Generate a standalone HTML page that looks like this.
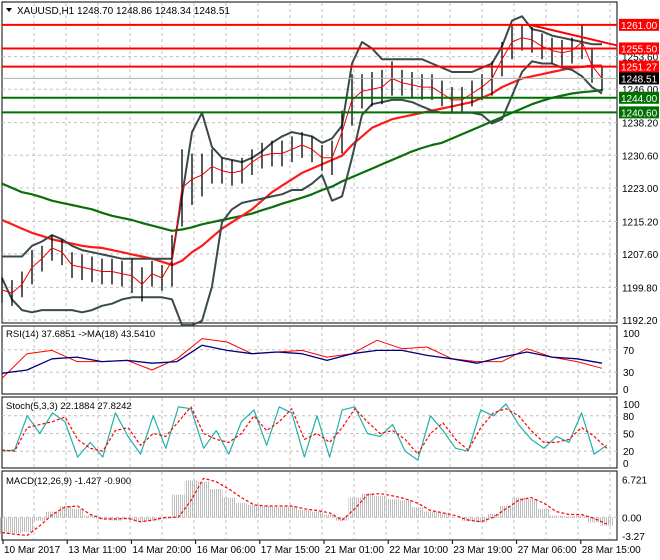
<!DOCTYPE html>
<html><head><meta charset="utf-8"><style>
body{margin:0;background:#fff;width:660px;height:560px;overflow:hidden}
svg{display:block;font-family:"Liberation Sans",sans-serif}
</style></head><body>
<svg id="c" width="660" height="560" viewBox="0 0 660 560" xmlns="http://www.w3.org/2000/svg">
<defs><pattern id="hp" width="2" height="4" patternUnits="userSpaceOnUse"><rect x="0" y="0" width="1" height="4" fill="#bdbdbd"/></pattern></defs>
<rect x="0" y="0" width="660" height="560" fill="#fff"/>
</svg>
<script>
// ---- data ----
const closes=[1199.2,1198.5,1200.5,1204.5,1206.5,1209,1208,1205,1204.5,1204,1203.5,1203.5,1203,1202.5,1200.5,1203,1202,1206,1223,1225,1226,1228,1227,1226.5,1227,1229,1230.5,1231,1231,1232,1233,1232,1230,1230,1236,1243.5,1245.5,1246,1246.5,1248.5,1247.5,1247,1246.5,1246.5,1245,1243.5,1243.5,1245,1246.5,1248.5,1253,1257,1258,1257.5,1256,1255,1254.5,1255,1257,1251.5,1248.5];
const ranges=[3,3,3,4,3,3,3,3,3,3,3,3,3,4,4,3,3,6,9,6,5,4,3,3,3,3,3,3,3,3,3,3,3,4,5,6,4,4,4,4,3,3,3,3,3,3,3,3,3,4,4,4,3,3,3,3,3,3,4,4,3];
const bbUpper=[1207,1207,1207,1209.5,1210.5,1212,1211,1209.5,1208.5,1208,1207.5,1207,1206.5,1206.5,1206.5,1206.5,1206.5,1206.5,1221,1236,1240.5,1232.5,1230,1229.5,1229,1230,1231.5,1233.5,1235,1236,1235.5,1235,1233.5,1234.5,1237.5,1252,1257,1255.5,1253,1253,1253,1253,1253,1252,1251,1250,1250,1250,1251,1252,1256,1262,1263,1260,1259.5,1258.5,1258,1257.5,1257,1256.5,1256.5];
const bbLower=[1202,1197,1194.5,1194,1194.5,1194.5,1194.5,1194.5,1194,1194.5,1195.5,1196,1197,1197.5,1197.5,1197.5,1197.5,1197,1191,1191,1192,1200,1215,1218,1219.5,1220,1220.5,1221,1221.5,1222.5,1222.5,1224,1226,1220,1221,1230,1240,1242.5,1243,1243.5,1243.5,1243,1242,1241,1240.5,1240.5,1240.5,1240.5,1240,1238,1239,1244.5,1250,1252.5,1252,1252,1251,1250.5,1249,1246.5,1245];
const maSlow=[1215.5,1214.5,1213.5,1212.5,1211.8,1211,1210.5,1210,1209.5,1209.2,1209,1208.5,1208,1207.5,1207,1206.5,1205.8,1205,1206,1208,1209.5,1211.5,1213.5,1215,1216.5,1218,1220,1222,1223.5,1225,1226.5,1227.5,1228.5,1229.5,1230.5,1233,1235,1237,1238,1239,1239.5,1240,1240.5,1241,1241.5,1242,1242.5,1243,1244,1245,1246.5,1247.5,1248.5,1249,1249.5,1250,1250.5,1251,1251.2,1251.5,1251.5];
const maLong=[1224,1223,1222,1221.5,1220.8,1220,1219.5,1219,1218.5,1218,1217.2,1216.5,1216,1215.5,1214.8,1214.2,1213.6,1213,1213.3,1213.8,1214.5,1215,1215.5,1216,1216.5,1217,1217.8,1218.5,1219.3,1220,1220.7,1221.5,1222.5,1223.3,1224.5,1225.5,1226.5,1227.5,1228.5,1229.5,1230.5,1231.5,1232.3,1233,1233.5,1234.5,1235.5,1236.5,1237.5,1238.5,1239.5,1240.5,1241.5,1242.5,1243.3,1244,1244.5,1245,1245.3,1245.5,1245.8];
const priceTicks=["1253.60","1246.00","1238.20","1230.60","1223.00","1215.20","1207.60","1199.80","1192.20"];
const levelsRed=[1261.00,1255.50,1251.27];
const levelsGreen=[1244.00,1240.60];
const lastPrice=1248.51;
const rsi=[19,63,69,49,49,51,34,54,90,84,63,66,69,57,63,87,72,75,54,49,49,72,57,49,37];
const rsiMa=[28,34,54,57,49,51,46,49,78,69,63,66,63,51,63,69,69,60,54,46,57,66,57,54,46];
const stochK=[20,22,80,50,85,70,10,35,10,85,45,15,80,25,95,92,25,55,15,70,90,30,95,85,10,80,10,90,95,50,45,65,20,5,80,55,25,20,90,80,100,65,40,25,45,35,85,15,30];
const stochD=[22,20,60,65,70,78,40,25,20,55,60,30,50,45,70,95,50,40,35,50,80,55,70,92,40,50,35,60,92,70,50,55,40,15,50,68,40,22,60,85,92,80,55,35,35,40,60,45,25];
const macdHist=[-2.8,-2.8,-2.5,-0.5,1.0,2.0,1.5,0.3,-0.3,-0.5,-0.3,-0.7,-0.5,-0.2,4,6.5,6.3,5,3.5,2.5,2.2,2,1.8,1.9,1.3,1.0,0.5,-0.5,3.5,4.2,3.8,3.2,3.0,1.8,1.0,0.8,0,-0.6,-0.8,0.6,2.0,3.5,3.2,1.5,0.3,0.2,0.3,-0.8,-1.4];
const macdSig=[-2.7,-3,-3.2,-1.5,0.5,1.8,2,0.5,-0.3,-0.3,-0.2,-0.8,-0.5,0,0,3,6.9,6.3,5,3.5,2.2,2,2,2,1.5,1.2,0.8,-0.5,1.5,4,4.2,3.8,3.3,2.5,1.2,0.8,0.3,-0.5,-0.8,0,1.5,3,3.5,2.5,1,0.5,0.5,-0.2,-1.2];
const timeLabels=["10 Mar 2017","13 Mar 11:00","14 Mar 20:00","16 Mar 06:00","17 Mar 15:00","21 Mar 01:00","22 Mar 10:00","23 Mar 19:00","27 Mar 06:00","28 Mar 15:00"];

// ---- geometry ----
const svg=document.getElementById('c');
const NS='http://www.w3.org/2000/svg';
const L=2,R=617;
function mk(tag,attrs,parent){const e=document.createElementNS(NS,tag);for(const k in attrs)e.setAttribute(k,attrs[k]);(parent||svg).appendChild(e);return e;}
const yP=p=>320-(p-1192.2)*4.29;
const xMain=i=>2+i*10;
const xRsi=i=>2+i*25;
const xLow=i=>2+i*12.6;
const yRsi=v=>389-v*0.56;
const ySt=v=>463-v*0.59;
const yMacd=v=>517.3-v*5.65;
function poly(arr,xf,yf,stroke,w,dash,name){
  const pts=arr.map((v,i)=>xf(i).toFixed(1)+','+yf(v).toFixed(1)).join(' ');
  const e=mk('polyline',{points:pts,fill:'none',stroke:stroke,'stroke-width':w,'stroke-linejoin':'round'});
  if(dash)e.setAttribute('stroke-dasharray',dash);
  
  
  return e;
}
function txt(s,x,y,opt){const t=mk('text',Object.assign({x:x,y:y,'font-size':10,fill:'#000'},opt||{}));t.textContent=s;return t;}

const panels=[[2,323,'main-panel'],[326,394,'rsi-panel'],[397,468,'stoch-panel'],[471,540,'macd-panel']];
panels.forEach(p=>{
  const r=mk('rect',{x:L,y:p[0],width:R-L,height:p[1]-p[0],fill:'none',stroke:'#000','stroke-width':1});
  
  
});
for(let x=34;x<R;x+=32){
  panels.forEach(p=>{
    const g=mk('line',{x1:x,x2:x,y1:p[0]+1,y2:p[1]-1,stroke:'#c0c0c0','stroke-dasharray':'3,3'});
    
    
  });
}
priceTicks.forEach(t=>{
  const y=yP(parseFloat(t));
  const g=mk('line',{x1:L,x2:R,y1:y,y2:y,stroke:'#c0c0c0','stroke-dasharray':'3,3'});
  
  
  const tt=txt(t,622,y+4);
  
  
});
[[yRsi,[70,30]],[ySt,[80,50,20]],[yMacd,[0]]].forEach(g=>{
  g[1].forEach(v=>{
    const e=mk('line',{x1:L,x2:R,y1:g[0](v),y2:g[0](v),stroke:'#c0c0c0','stroke-dasharray':'3,3'});
    
    
  });
});
poly(maLong,xMain,yP,'#0a6e0a',2.2,null,'ma-long-green');
poly(maSlow,xMain,yP,'#ff1a1a',2.2,null,'ma-slow-red');
poly(bbUpper,xMain,yP,'#3a4a4a',2,null,'bollinger-upper');
poly(bbLower,xMain,yP,'#3a4a4a',2,null,'bollinger-lower');
closes.forEach((c,i)=>{
  const x=xMain(i);
  const b=mk('line',{x1:x,x2:x,y1:yP(c+ranges[i]),y2:yP(c-ranges[i]),stroke:'#000','stroke-width':1.3});
  
  
});
poly(closes,xMain,yP,'#e00',1,null,'fast-ma-red');
levelsRed.forEach(v=>{
  const e=mk('line',{x1:L,x2:R,y1:yP(v),y2:yP(v),stroke:'#ff0000','stroke-width':2});
  
  
});
levelsGreen.forEach(v=>{
  const e=mk('line',{x1:L,x2:R,y1:yP(v),y2:yP(v),stroke:'#007000','stroke-width':2});
  
  
});
const tl=mk('line',{x1:530,y1:yP(1261),x2:R,y2:yP(1256.2),stroke:'#ff0000','stroke-width':2});


const lp=mk('line',{x1:L,x2:R,y1:yP(lastPrice),y2:yP(lastPrice),stroke:'#b0b0b0','stroke-width':1});


function badge(v,bg,name){
  const y=yP(v);
  const r=mk('rect',{x:619,y:y-6,width:40,height:12,fill:bg});
  
  
  const t=txt(v.toFixed(2),621,y+4,{fill:'#fff'});
  
  
}
levelsRed.forEach(v=>badge(v,'#ff0000','resistance-label'));
levelsGreen.forEach(v=>badge(v,'#007000','support-label'));
badge(lastPrice,'#000','last-price-label');
const tri=mk('path',{d:'M6,8 L12,8 L9,12 Z',fill:'#000'});


const ti=txt('XAUUSD,H1  1248.70 1248.86 1248.34 1248.51',17,14,{'xml:space':'preserve'});



poly(rsi,xRsi,yRsi,'#ff0000',1,null,'rsi-line');
poly(rsiMa,xRsi,yRsi,'#00007f',1.3,null,'rsi-ma-line');
const rt=txt('RSI(14) 37.6851  ->MA(18) 43.5410',6,337,{'xml:space':'preserve','font-size':9.5});


[[100,'100'],[70,'70'],[30,'30'],[0,'0']].forEach(a=>{
  const t=txt(a[1],623,yRsi(a[0])+4);
  
  
});
poly(stochK,xLow,ySt,'#20b2aa',1.2,null,'stoch-k-line');
poly(stochD,xLow,ySt,'#ff0000',1.2,'3,2','stoch-d-line');
const st=txt('Stoch(5,3,3) 22.1884 27.8242',6,409,{'font-size':9.5});


[[100,'100'],[80,'80'],[50,'50'],[20,'20'],[0,'0']].forEach(a=>{
  const t=txt(a[1],623,ySt(a[0])+4);
  
  
});
macdHist.forEach((v,i)=>{
  const x=xLow(i)-6.3,y0=yMacd(0),y1=yMacd(v);
  const b=mk('rect',{x:x,y:Math.min(y0,y1),width:12.6,height:Math.abs(y1-y0)+0.5,fill:'url(#hp)'});
  
  
});
poly(macdSig,xLow,yMacd,'#ff0000',1.2,'3,2','macd-signal-line');
const mt=txt('MACD(12,26,9) -1.427 -0.900',6,484,{'font-size':9.5});


[[6.721,'6.721'],[0,'0.00'],[-3.27,'-3.27']].forEach(a=>{
  const t=txt(a[1],622,yMacd(a[0])+4);
  
  
});
timeLabels.forEach((s,i)=>{
  const x=3+i*64.2;
  const tk=mk('line',{x1:x,x2:x,y1:540,y2:544,stroke:'#000'});
  
  
  const t=txt(s,x+1,553);
  
  
});
</script>
</body></html>
